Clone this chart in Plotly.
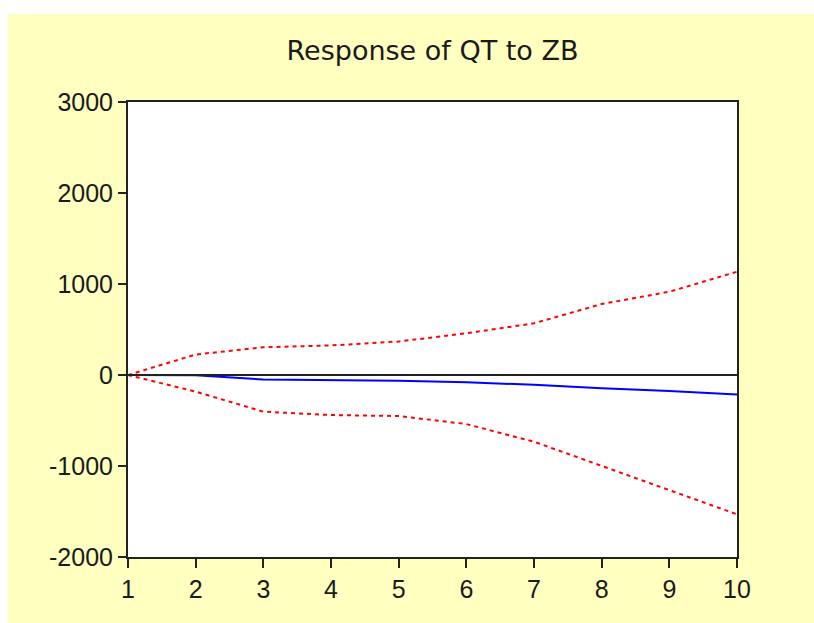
import plotly.graph_objects as go

periods = [1, 2, 3, 4, 5, 6, 7, 8, 9, 10]
response = [0, -3, -50, -55, -62, -80, -108, -145, -175, -215]
upper_band = [0, 225, 305, 325, 368, 458, 568, 780, 915, 1135]
lower_band = [0, -183, -403, -440, -451, -539, -733, -1000, -1264, -1531]
zero_line = [0] * len(periods)
y_ticks = [-2000, -1000, 0, 1000, 2000, 3000]
title_text = "Response of QT to ZB"

W, H = 814, 623
L, R, T, B = 128, 737, 102, 557

fig = go.Figure()
fig.add_trace(go.Scatter(x=periods, y=upper_band, mode="lines",
                         line=dict(color="#FF0000", width=2, dash="4px,4px"),
                         hoverinfo="skip"))
fig.add_trace(go.Scatter(x=periods, y=lower_band, mode="lines",
                         line=dict(color="#FF0000", width=2, dash="4px,4px"),
                         hoverinfo="skip"))
fig.add_trace(go.Scatter(x=periods, y=response, mode="lines",
                         line=dict(color="#0000FF", width=2),
                         hoverinfo="skip"))
fig.add_trace(go.Scatter(x=periods, y=zero_line, mode="lines",
                         line=dict(color="#222222", width=2),
                         hoverinfo="skip"))

pw, ph = R - L, B - T
def px_x(px):
    return (px - L) / pw
def px_y(py):
    return (B - py) / ph

fig.add_shape(type="rect", xref="paper", yref="paper",
              x0=px_x(8), x1=px_x(W + 5), y0=px_y(H + 10), y1=px_y(14),
              fillcolor="#FFFFC0", line=dict(width=0), layer="below")
fig.add_shape(type="rect", xref="paper", yref="paper",
              x0=0, x1=1, y0=0, y1=1,
              fillcolor="#FFFFFF", line=dict(width=0), layer="below")

axis_font = dict(family="Liberation Sans, Arial, sans-serif", size=25, color="#1a1a1a")

fig.update_layout(
    width=W, height=H,
    margin=dict(l=L, r=W - R, t=T, b=H - B, pad=0),
    paper_bgcolor="#FFFFC0",
    plot_bgcolor="#FFFFFF",
    showlegend=False,
    title=dict(text=title_text, x=(L + R) / 2 / W, xanchor="center",
               y=1 - 51 / H, yanchor="middle",
               font=dict(family="DejaVu Sans, sans-serif", size=27, color="#1a1a1a")),
    xaxis=dict(range=[1, 10], tickvals=periods, ticktext=[str(p) for p in periods],
               showgrid=False, zeroline=False, showline=True, linecolor="#222222",
               linewidth=2, mirror=True, ticks="outside", ticklen=9, tickwidth=2,
               tickcolor="#222222", tickfont=axis_font),
    yaxis=dict(range=[-2000, 3000], tickvals=y_ticks, ticktext=[str(v) for v in y_ticks],
               showgrid=False, zeroline=False, showline=True, linecolor="#222222",
               linewidth=2, mirror=True, ticks="outside", ticklen=8, tickwidth=2,
               tickcolor="#222222", tickfont=axis_font),
)
# white strips above and left of the yellow frame
fig.add_shape(type="rect", xref="paper", yref="paper",
              x0=px_x(-5), x1=px_x(W + 5), y0=px_y(14), y1=px_y(-5),
              fillcolor="#FFFFFF", line=dict(width=0), layer="below")
fig.add_shape(type="rect", xref="paper", yref="paper",
              x0=px_x(-5), x1=px_x(8), y0=px_y(H + 10), y1=px_y(-5),
              fillcolor="#FFFFFF", line=dict(width=0), layer="below")

fig.write_html(
    "out.html", config={"displayModeBar": False},
    post_script=("document.body.style.margin='0';document.body.style.overflow='hidden';"
                 "document.body.style.background='#FFFFC0';"
                 "document.documentElement.style.background='#FFFFC0';"))
